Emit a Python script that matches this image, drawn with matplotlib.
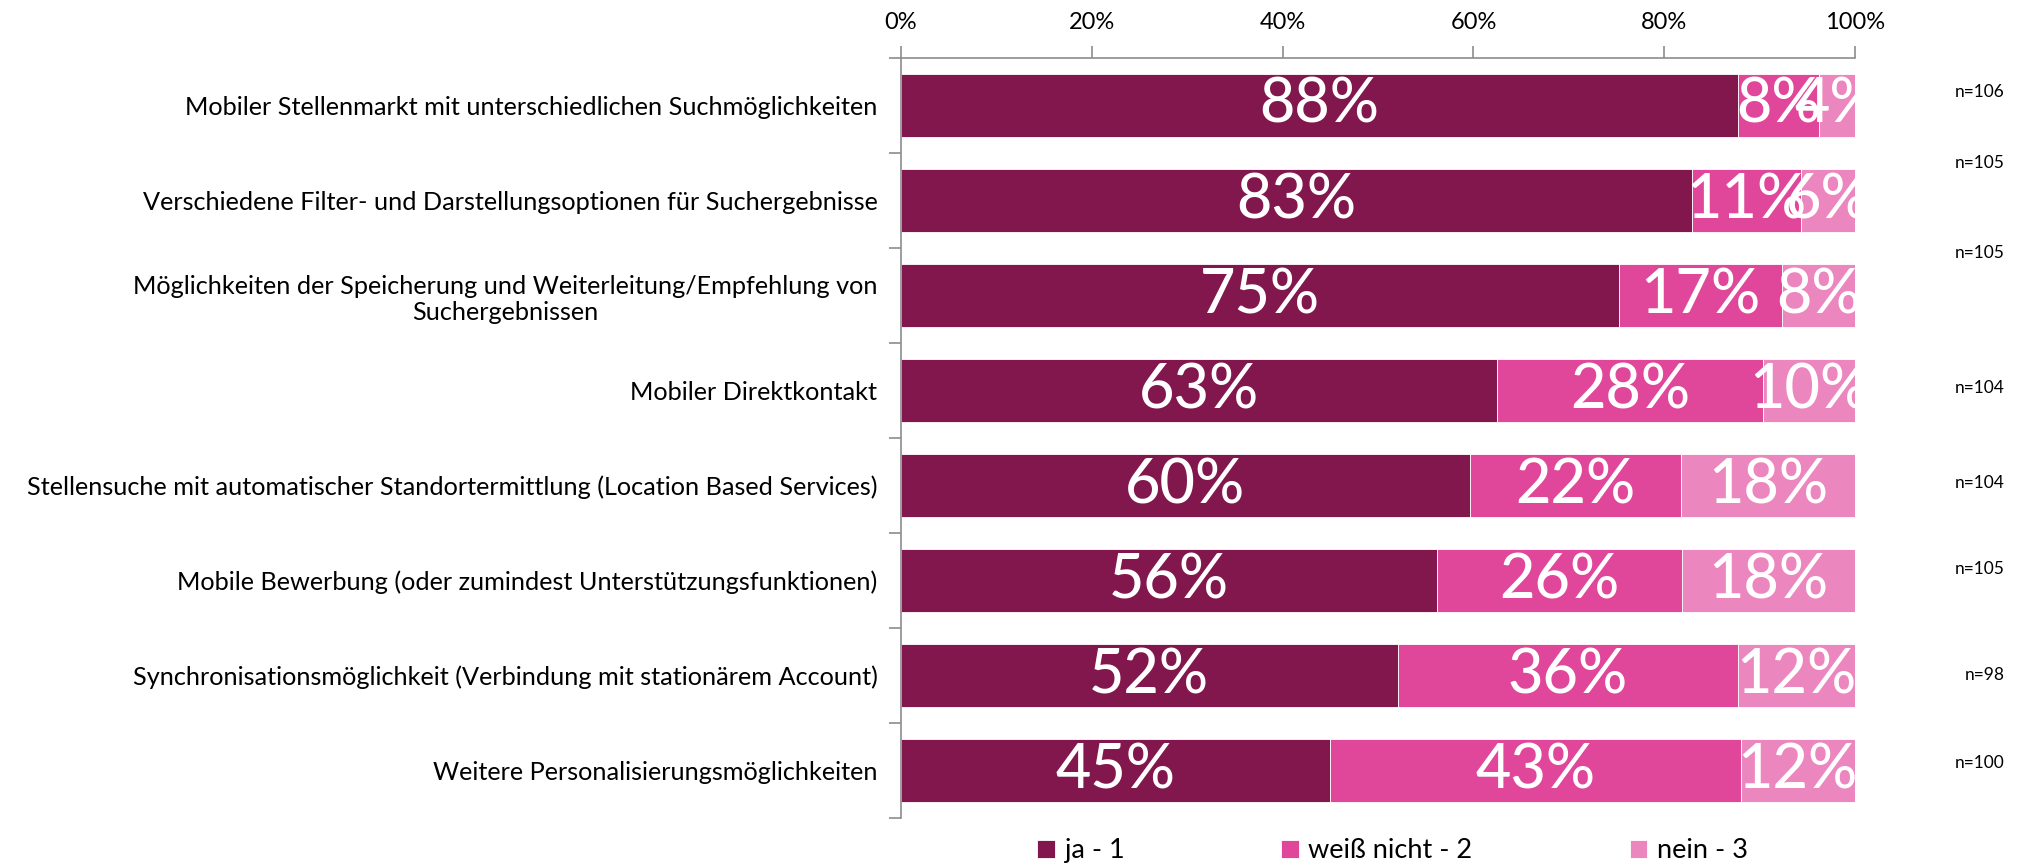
import matplotlib
import matplotlib.pyplot as plt
import matplotlib.transforms as mtransforms
import numpy as np

matplotlib.use("Agg")

plt.rcParams["font.family"] = ["Lato", "DejaVu Sans"]

categories = [
    "Mobiler Stellenmarkt mit unterschiedlichen Suchmöglichkeiten",
    "Verschiedene Filter- und Darstellungsoptionen für Suchergebnisse",
    "Möglichkeiten der Speicherung und Weiterleitung/Empfehlung von\nSuchergebnissen",
    "Mobiler Direktkontakt",
    "Stellensuche mit automatischer Standortermittlung (Location Based Services)",
    "Mobile Bewerbung (oder zumindest Unterstützungsfunktionen)",
    "Synchronisationsmöglichkeit (Verbindung mit stationärem Account)",
    "Weitere Personalisierungsmöglichkeiten",
]
series_names = ["ja - 1", "weiß nicht - 2", "nein - 3"]
ja = [93, 87, 79, 65, 62, 59, 51, 45]
weiss_nicht = [9, 12, 18, 29, 23, 27, 35, 43]
nein = [4, 6, 8, 10, 19, 19, 12, 12]
x_ticks = [0, 20, 40, 60, 80, 100]

colors = ["#82174E", "#E0469A", "#EC86BE"]
# small vertical shifts of the n= labels (in category units), as in the original
n_label_shift = [-0.14, -0.39, -0.45, -0.03, -0.03, -0.12, -0.01, -0.08]

counts = np.array([ja, weiss_nicht, nein], dtype=float)
n_total = counts.sum(axis=0)
shares = counts / n_total * 100

fig = plt.figure(figsize=(20.27, 8.63), dpi=100)
ax = fig.add_axes([0.4445, 0.0521, 0.4707, 0.8807])

y = np.arange(len(categories))
left = np.zeros(len(categories))
for i, name in enumerate(series_names):
    ax.barh(y, shares[i], left=left, height=0.66, color=colors[i],
            edgecolor="white", linewidth=0.6, label=name)
    for yi, (l, w) in enumerate(zip(left, shares[i])):
        pct = int(np.floor(w + 0.5 + 1e-9))
        ax.text(l + w / 2, yi, f"{pct}%", ha="center", va="center",
                color="white", fontsize=44, fontweight="medium",
                clip_on=False)
    left = left + shares[i]

ax.set_xlim(0, 100)
ax.set_ylim(len(categories) - 0.5, -0.5)
ax.xaxis.tick_top()
ax.set_xticks(x_ticks)
ax.set_xticklabels([f"{t}%" for t in x_ticks], fontsize=17)
ax.tick_params(axis="x", direction="out", length=9, width=1.2,
               color="#8c8c8c", pad=9)

ax.set_yticks(y)
ax.set_yticklabels(categories, fontsize=18.2, multialignment="center")
ax.tick_params(axis="y", length=0, pad=17)
ax.set_yticks(np.arange(len(categories) + 1) - 0.5, minor=True)
ax.tick_params(axis="y", which="minor", direction="out", length=9,
               width=1.2, color="#8c8c8c")

for side in ["right", "bottom"]:
    ax.spines[side].set_visible(False)
for side in ["top", "left"]:
    ax.spines[side].set_color("#8c8c8c")
    ax.spines[side].set_linewidth(1.2)

trans = mtransforms.blended_transform_factory(fig.transFigure, ax.transData)
for yi, n in enumerate(n_total):
    ax.text(0.989, yi + n_label_shift[yi], f"n={int(n)}", transform=trans,
            ha="right", va="center", fontsize=12.5)

fig.legend(loc="center", bbox_to_anchor=(0.687, 0.014), ncol=3, frameon=False,
           fontsize=19.5, handlelength=0.65, handleheight=0.65,
           handletextpad=0.35, columnspacing=5.8)

fig.savefig("out.png", dpi=100)
plt.close(fig)
